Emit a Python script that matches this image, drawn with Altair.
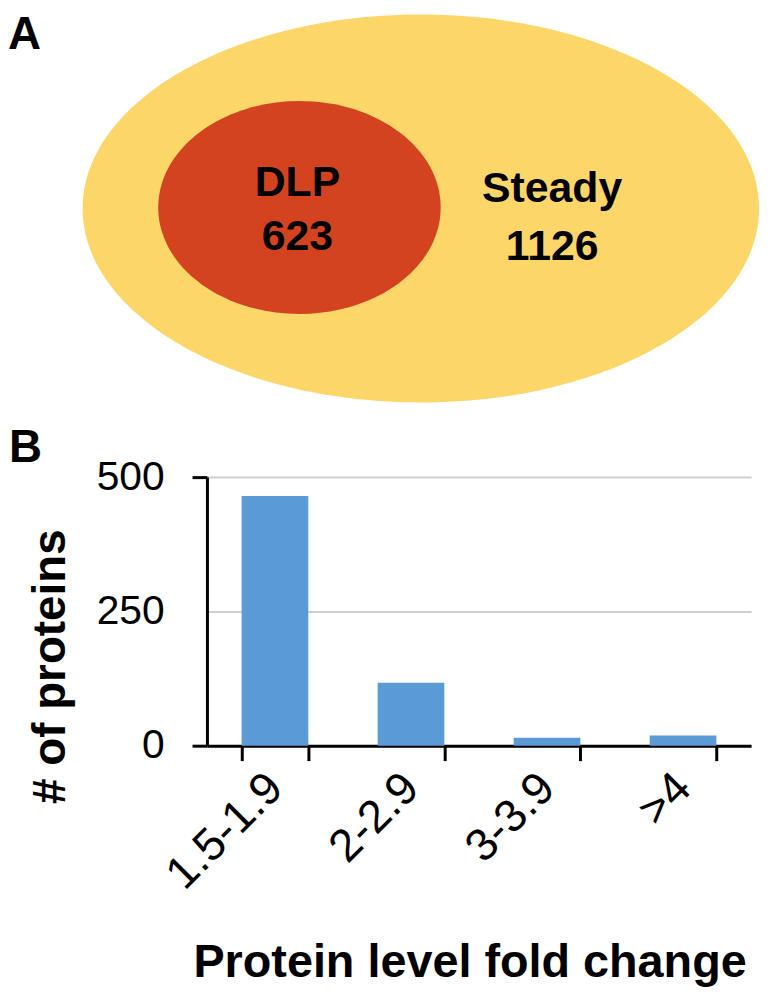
import altair as alt
import pandas as pd

# ---- data ----
fold_bins = ["1.5-1.9", "2-2.9", "3-3.9", ">4"]
protein_counts = [465, 117, 15, 19]

venn_sets = ["DLP", "Steady"]
venn_counts = [623, 1126]

panel_letters = ["A", "B"]

# ---- layout (page-pixel coordinates of the diagram parts) ----
PLOT_W, PLOT_H = 547, 270
PLOT_LEFT, PLOT_TOP = 208, 477   # page position of the bar plot area
ell_cx = [423, 301]   # outer (Steady), inner (DLP)
ell_cy = [207, 206]
ell_rx = [340, 142]
ell_ry = [195, 107]
txt_x = [299, 555]
txt_y_name = [194, 200]
txt_y_count = [249, 259]
letter_x = [8, 9]
letter_y = [47, 462]

YELLOW = "#FDD66A"
RED = "#D4431F"
BLUE = "#5B9BD5"
FONT = "Liberation Sans"

PX = alt.Scale(domain=[PLOT_LEFT, PLOT_LEFT + PLOT_W], nice=False, zero=False)
PY = alt.Scale(domain=[PLOT_TOP, PLOT_TOP + PLOT_H], reverse=True, nice=False, zero=False)


def ellipse_path(ratio):
    k = 0.5523
    a = ratio
    return (f"M 1 0 C 1 {k*a:.4f} {k} {a:.4f} 0 {a:.4f} "
            f"C {-k} {a:.4f} -1 {k*a:.4f} -1 0 "
            f"C -1 {-k*a:.4f} {-k} {-a:.4f} 0 {-a:.4f} "
            f"C {k} {-a:.4f} 1 {-k*a:.4f} 1 0 Z")


# ---- bar chart (panel B) ----
bar_df = pd.DataFrame({"bin": fold_bins, "n": protein_counts})
bars = alt.Chart(bar_df).mark_bar(color=BLUE).encode(
    x=alt.X("bin:N", sort=fold_bins,
            scale=alt.Scale(paddingInner=0.51, paddingOuter=0.255),
            axis=alt.Axis(orient="bottom", title="Protein level fold change",
                          labelAngle=315, labelAlign="right", labelBaseline="middle",
                          labelFont=FONT, labelFontSize=46, labelColor="black",
                          labelPadding=20, tickBand="extent", tickSize=15,
                          tickColor="black", tickWidth=3, domainColor="black",
                          domainWidth=3, grid=False,
                          titleFont=FONT, titleFontSize=47, titleFontWeight="bold",
                          titleColor="black", titleX=264, titleY=232,
                          titleAlign="center", titleBaseline="alphabetic")),
    y=alt.Y("n:Q", scale=alt.Scale(domain=[0, 500], nice=False),
            axis=alt.Axis(orient="left", title="# of proteins", values=[0, 250, 500],
                          labelFont=FONT, labelFontSize=41, labelColor="black",
                          labelPadding=28, tickSize=15,
                          tickColor={"condition": {"test": "datum.value === 250",
                                                   "value": "transparent"},
                                     "value": "black"},
                          tickWidth=3, domainColor="black", domainWidth=3,
                          grid=True, gridColor="#CFCFCF", gridWidth=2,
                          titleFont=FONT, titleFontSize=46, titleFontWeight="bold",
                          titleColor="black", titleAngle=270, titleX=-157,
                          titleY=190, titleAlign="center", titleBaseline="middle")),
)

# ---- Venn diagram (panel A) ----
ell_df = pd.DataFrame({"set": ["Steady", "DLP"], "x": ell_cx, "y": ell_cy})
outer = alt.Chart(ell_df.iloc[[0]]).mark_point(
    shape=ellipse_path(ell_ry[0] / ell_rx[0]), size=(2 * ell_rx[0]) ** 2,
    filled=True, fill=YELLOW, opacity=1, strokeWidth=0,
).encode(x=alt.X("x:Q", scale=PX, axis=None), y=alt.Y("y:Q", scale=PY, axis=None))
inner = alt.Chart(ell_df.iloc[[1]]).mark_point(
    shape=ellipse_path(ell_ry[1] / ell_rx[1]), size=(2 * ell_rx[1]) ** 2,
    filled=True, fill=RED, opacity=1, strokeWidth=0,
).encode(x=alt.X("x:Q", scale=PX, axis=None), y=alt.Y("y:Q", scale=PY, axis=None))

txt_rows = []
for s, c, x, yn, yc in zip(venn_sets, venn_counts, txt_x, txt_y_name, txt_y_count):
    txt_rows.append({"t": s, "x": x, "y": yn})
    txt_rows.append({"t": str(c), "x": x, "y": yc})
venn_text = alt.Chart(pd.DataFrame(txt_rows)).mark_text(
    font=FONT, fontWeight="bold", fontSize=43, color="black",
    align="center", baseline="alphabetic",
).encode(x=alt.X("x:Q", scale=PX, axis=None), y=alt.Y("y:Q", scale=PY, axis=None),
         text="t:N")

letters = alt.Chart(pd.DataFrame({"t": panel_letters, "x": letter_x, "y": letter_y})).mark_text(
    font=FONT, fontWeight="bold", fontSize=46, color="black",
    align="left", baseline="alphabetic",
).encode(x=alt.X("x:Q", scale=PX, axis=None), y=alt.Y("y:Q", scale=PY, axis=None),
         text="t:N")

chart = alt.layer(bars, outer, inner, venn_text, letters).resolve_scale(
    x="independent", y="independent"
).properties(
    width=PLOT_W, height=PLOT_H,
    autosize=alt.AutoSizeParams(type="none"),
    padding={"left": PLOT_LEFT - 8, "top": PLOT_TOP - 8, "right": 12, "bottom": 243},
    background="white",
).configure_view(stroke=None)

chart.save("out.html", embed_options={"renderer": "svg", "actions": False})
